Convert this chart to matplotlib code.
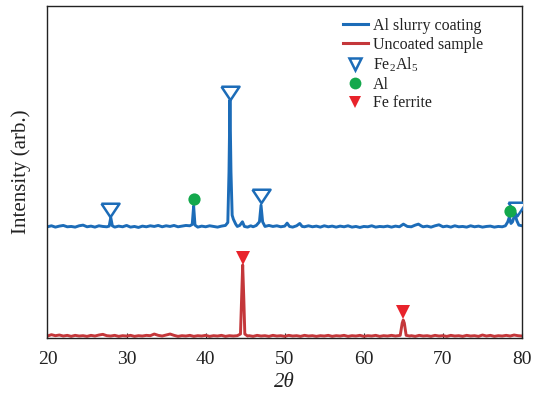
import matplotlib
matplotlib.use("Agg")
import matplotlib.pyplot as plt
from matplotlib.lines import Line2D

plt.rcParams['font.family'] = ['Liberation Serif', 'DejaVu Serif']
plt.rcParams['mathtext.fontset'] = 'custom'
plt.rcParams['mathtext.rm'] = 'Liberation Serif'
plt.rcParams['mathtext.it'] = 'Liberation Serif:italic'

# ---------------- data ----------------
coated_x = [20.0, 20.5, 21.0, 21.5, 22.0, 22.5, 23.0, 23.5, 24.0, 24.5, 25.0, 25.5,
            26.0, 26.5, 27.0, 27.5, 27.8, 28.0, 28.2, 28.5, 29.0, 29.5, 30.0, 30.5,
            31.0, 31.5, 32.0, 32.5, 33.0, 33.5, 34.0, 34.5, 35.0, 35.5, 36.0, 36.5,
            37.0, 37.5, 38.0, 38.3, 38.48, 38.65, 39.0, 39.5, 40.0, 40.5, 41.0, 41.5,
            42.0, 42.5, 42.8, 42.95, 43.07, 43.2, 43.35, 43.5, 43.8, 44.0, 44.3, 44.65,
            44.9, 45.3, 45.7, 46.0, 46.4, 46.8, 47.0, 47.2, 47.5, 48.0, 48.5, 49.0,
            49.5, 50.0, 50.3, 50.6, 51.0, 51.5, 51.9, 52.2, 52.5, 53.0, 53.5, 54.0,
            54.5, 55.0, 55.5, 56.0, 56.5, 57.0, 57.5, 58.0, 58.5, 59.0, 59.5, 60.0,
            60.5, 61.0, 61.5, 62.0, 62.5, 63.0, 63.5, 64.0, 64.5, 65.0, 65.5, 66.0,
            66.5, 66.9, 67.3, 67.5, 68.0, 68.5, 69.0, 69.5, 70.0, 70.5, 71.0, 71.5,
            72.0, 72.5, 73.0, 73.5, 74.0, 74.5, 75.0, 75.5, 76.0, 76.5, 77.0, 77.5,
            77.9, 78.2, 78.4, 78.6, 78.8, 79.1, 79.35, 79.6, 80.0]
coated_y = [33.5, 33.8, 33.4, 33.7, 33.9, 33.5, 33.6, 33.4, 33.8, 34.0, 33.5, 33.7,
            33.4, 33.8, 33.6, 33.5, 33.7, 36.3, 33.8, 33.4, 33.7, 33.5, 33.9, 33.4,
            33.6, 33.3, 33.7, 33.5, 33.8, 33.6, 33.9, 33.5, 33.8, 33.6, 33.9, 33.5,
            33.7, 33.9, 33.8, 34.2, 39.8, 34.0, 33.4, 33.7, 33.5, 33.8, 33.6, 33.4,
            33.7, 33.9, 34.8, 50.0, 71.7, 50.0, 37.0, 35.8, 34.3, 33.6, 33.9, 35.0,
            33.6, 33.4, 33.8, 33.5, 33.9, 35.0, 40.0, 35.0, 33.6, 33.9, 33.6, 33.8,
            33.5, 33.7, 34.6, 33.6, 33.4, 33.8, 34.5, 33.6, 33.5, 33.8, 33.5, 33.7,
            33.4, 33.8, 33.5, 33.7, 33.4, 33.7, 33.5, 33.8, 33.4, 33.6, 33.3, 33.6,
            33.5, 33.8, 33.4, 33.6, 33.5, 33.7, 33.4, 33.7, 33.5, 34.3, 33.6, 33.5,
            34.0, 34.3, 33.7, 33.5, 33.7, 33.4, 33.8, 34.1, 33.5, 33.7, 33.4, 33.8,
            33.5, 33.6, 33.4, 33.8, 33.5, 33.7, 33.4, 33.6, 33.7, 33.4, 33.6, 33.5,
            33.8, 35.0, 36.5, 34.5, 35.0, 37.3, 35.3, 34.0, 33.8]

uncoated_x = [20.0, 20.5, 21.0, 21.5, 22.0, 22.5, 23.0, 23.5, 24.0, 24.5, 25.0, 25.5,
              26.0, 26.5, 27.0, 27.5, 28.0, 28.5, 29.0, 29.5, 30.0, 30.5, 31.0, 31.5,
              32.0, 32.5, 33.0, 33.5, 34.0, 34.5, 35.0, 35.5, 36.0, 36.5, 37.0, 37.5,
              38.0, 38.5, 39.0, 39.5, 40.0, 40.5, 41.0, 41.5, 42.0, 42.5, 43.0, 43.5,
              44.0, 44.4, 44.55, 44.68, 44.82, 44.95, 45.3, 45.5, 46.0, 46.5, 47.0, 47.5,
              48.0, 48.5, 49.0, 49.5, 50.0, 50.5, 51.0, 51.5, 52.0, 52.5, 53.0, 53.5,
              54.0, 54.5, 55.0, 55.5, 56.0, 56.5, 57.0, 57.5, 58.0, 58.5, 59.0, 59.5,
              60.0, 60.5, 61.0, 61.5, 62.0, 62.5, 63.0, 63.5, 64.0, 64.6, 64.85, 64.98,
              65.12, 65.35, 65.8, 66.0, 66.5, 67.0, 67.5, 68.0, 68.5, 69.0, 69.5, 70.0,
              70.5, 71.0, 71.5, 72.0, 72.5, 73.0, 73.5, 74.0, 74.5, 75.0, 75.5, 76.0,
              76.5, 77.0, 77.5, 78.0, 78.5, 79.0, 79.5, 80.0]
uncoated_y = [0.6, 1.0, 0.7, 0.9, 0.6, 0.8, 0.5, 0.8, 0.6, 0.7, 0.5, 0.8,
              0.6, 0.9, 1.1, 0.7, 0.6, 0.8, 0.5, 0.7, 0.6, 0.8, 0.5, 0.7,
              0.6, 0.8, 0.7, 1.2, 0.8, 0.6, 0.9, 1.2, 0.8, 0.5, 0.7, 0.6,
              0.8, 0.5, 0.7, 0.6, 0.8, 0.5, 0.7, 0.6, 0.8, 0.5, 0.7, 0.6,
              0.7, 1.2, 12.0, 22.0, 12.0, 1.2, 0.6, 0.7, 0.5, 0.8, 0.6, 0.7,
              0.5, 0.8, 0.6, 0.7, 0.5, 0.8, 0.6, 0.7, 0.5, 0.8, 0.6, 0.7,
              0.5, 0.7, 0.6, 0.8, 0.5, 0.7, 0.6, 0.8, 0.5, 0.7, 0.6, 0.8,
              0.5, 0.7, 0.6, 0.8, 0.5, 0.7, 0.6, 0.8, 0.6, 0.8, 4.5, 5.4,
              4.5, 0.8, 0.6, 0.7, 0.5, 0.8, 0.6, 0.7, 0.5, 0.8, 0.6, 0.7,
              0.5, 0.8, 0.6, 0.7, 0.5, 0.8, 0.6, 0.7, 0.5, 0.9, 0.6, 0.8,
              0.5, 0.7, 0.6, 0.8, 0.6, 0.9, 0.7, 0.6]

fe2al5_x = [27.94, 43.07, 47.0, 79.4]
fe2al5_y = [38.6, 73.9, 42.9, 38.9]
al_x = [38.48, 78.5]
al_y = [41.8, 38.2]
ferrite_x = [44.68, 64.98]
ferrite_y = [24.1, 7.8]

series_labels = ["Al slurry coating", "Uncoated sample"]
marker_labels = ["Fe$_2$Al$_5$", "Al", "Fe ferrite"]
x_ticks = [20, 30, 40, 50, 60, 70, 80]

# ---------------- styles ----------------
BLUE = "#1c6cb8"
RED = "#c4373a"
GREEN = "#13a84c"
FRED = "#e8232b"

wide_tri = [(-1, 0.75), (1, 0.75), (0, -0.75), (-1, 0.75)]

fig = plt.figure(figsize=(5.33, 3.94), dpi=100)
ax = fig.add_axes([0.0891, 0.1421, 0.9794 - 0.0891, 0.9848 - 0.1421])

ax.plot(coated_x, coated_y, color=BLUE, lw=2.1, zorder=2)
ax.plot(uncoated_x, uncoated_y, color=RED, lw=2.1, zorder=2)

ax.plot(fe2al5_x, fe2al5_y, linestyle='none', marker=wide_tri, ms=13,
        mfc='white', mec=BLUE, mew=1.8, zorder=4)
ax.plot(al_x, al_y, linestyle='none', marker='o', ms=8.8,
        mfc=GREEN, mec=GREEN, mew=0, zorder=4)
ax.plot(ferrite_x, ferrite_y, linestyle='none', marker='v', ms=9.5,
        mfc=FRED, mec=FRED, mew=0, zorder=4)

ax.set_xlim(20, 80)
ax.set_ylim(0, 100)
ax.set_xticks(x_ticks)
ax.set_xticklabels([str(t) for t in x_ticks], fontsize=14)
ax.set_yticks([])
ax.tick_params(axis='x', direction='in', length=3.5, width=0.8, pad=9, colors='#222222')
for s in ax.spines.values():
    s.set_linewidth(1.0)
    s.set_color('#222222')

ax.set_xlabel("2θ", fontsize=15, fontstyle='italic', labelpad=4, color='#222222')
ax.set_ylabel("Intensity (arb.)", fontsize=15, labelpad=12, color='#222222')

handles = [
    Line2D([], [], color=BLUE, lw=2.2),
    Line2D([], [], color=RED, lw=2.2),
    Line2D([], [], linestyle='none', marker='v', ms=9, mfc='white', mec=BLUE, mew=1.8),
    Line2D([], [], linestyle='none', marker='o', ms=8.5, mfc=GREEN, mec=GREEN, mew=0),
    Line2D([], [], linestyle='none', marker='v', ms=9, mfc=FRED, mec=FRED, mew=0),
]
leg = fig.legend(handles, series_labels + marker_labels, loc='upper left',
                 bbox_to_anchor=(343 / 533, 1 - 18 / 394), frameon=False,
                 fontsize=11.5, handlelength=1.55, handletextpad=0.3,
                 labelspacing=0.17, borderpad=0, borderaxespad=0)
for t in leg.get_texts():
    t.set_color('#222222')

fig.savefig("out.png", dpi=100)
